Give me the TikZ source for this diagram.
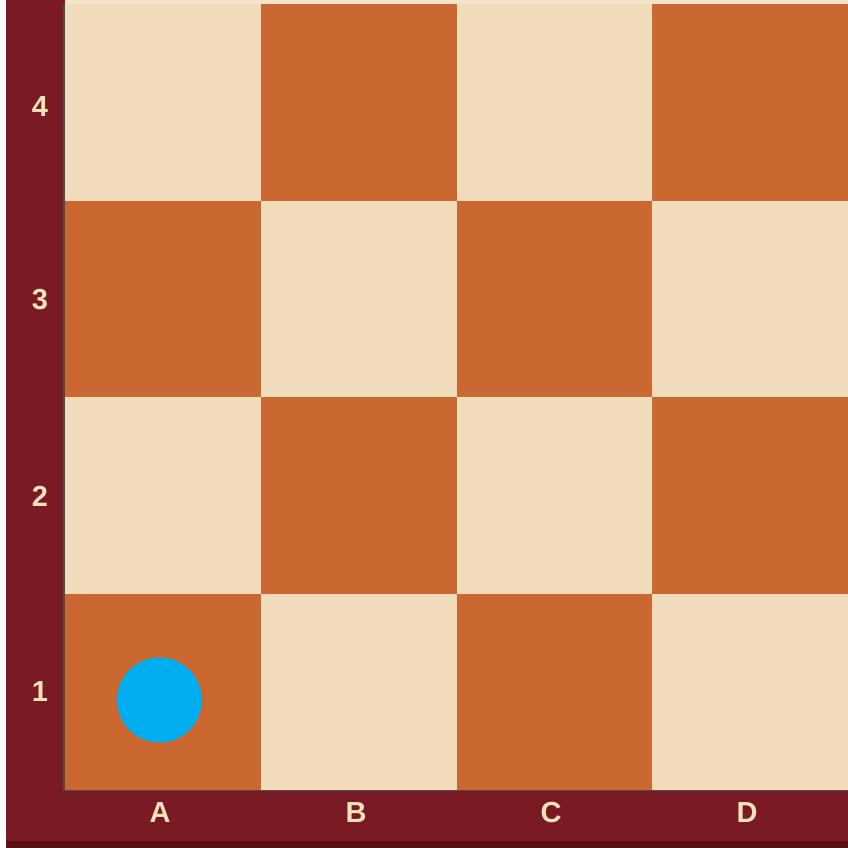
\documentclass[tikz,border=0pt]{standalone}
\usepackage{fontspec}
\setmainfont{Liberation Sans}
\definecolor{lightsq}{HTML}{F0DCBA}
\definecolor{darksq}{HTML}{CB6832}
\definecolor{frame}{HTML}{7A1A24}
\definecolor{framedark}{HTML}{561017}
\definecolor{labelc}{HTML}{F2E3B8}
\definecolor{piece}{HTML}{00AEEF}
\begin{document}
\begin{tikzpicture}[x=1pt,y=-1pt,
  lsq/.style={fill=lightsq},
  dsq/.style={fill=darksq},
  coordlabel/.style={text=labelc,font=\fontsize{29}{29}\selectfont\bfseries,inner sep=0pt},
  token/.style={circle,fill=piece,minimum size=85pt,inner sep=0pt}]
\useasboundingbox (0,0) rectangle (848,848);
\fill[white] (0,0) rectangle (848,848);
% frame
\fill[frame] (6,0) rectangle (848,841);
\fill[framedark] (6,841) rectangle (848,848);
\fill[lightsq!80!white] (65,0) rectangle (848,4);
\draw[black!70,line width=1.5pt] (64,4) -- (64,790.5) -- (848,790.5);
% squares
\foreach \c in {0,1,2,3}{
  \foreach \r in {0,1,2,3}{
    \pgfmathtruncatemacro{\sqparity}{mod(\c+\r,2)}
    \ifnum\sqparity=0
      \fill[lsq] (65+\c*195.75,4+\r*196.5) rectangle ++(195.75,196.5);
    \else
      \fill[dsq] (65+\c*195.75,4+\r*196.5) rectangle ++(195.75,196.5);
    \fi
  }
}
% labels
\node[coordlabel] (r4) at (40,107) {4};
\node[coordlabel] (r3) at (40,300) {3};
\node[coordlabel] (r2) at (40,496) {2};
\node[coordlabel] (r1) at (40,692) {1};
\node[coordlabel] (ca) at (160,813) {A};
\node[coordlabel] (cb) at (356,813) {B};
\node[coordlabel] (cc) at (551,813) {C};
\node[coordlabel] (cd) at (747,813) {D};
% piece
\node[token] (p) at (159.5,700) {};
\end{tikzpicture}
\end{document}
